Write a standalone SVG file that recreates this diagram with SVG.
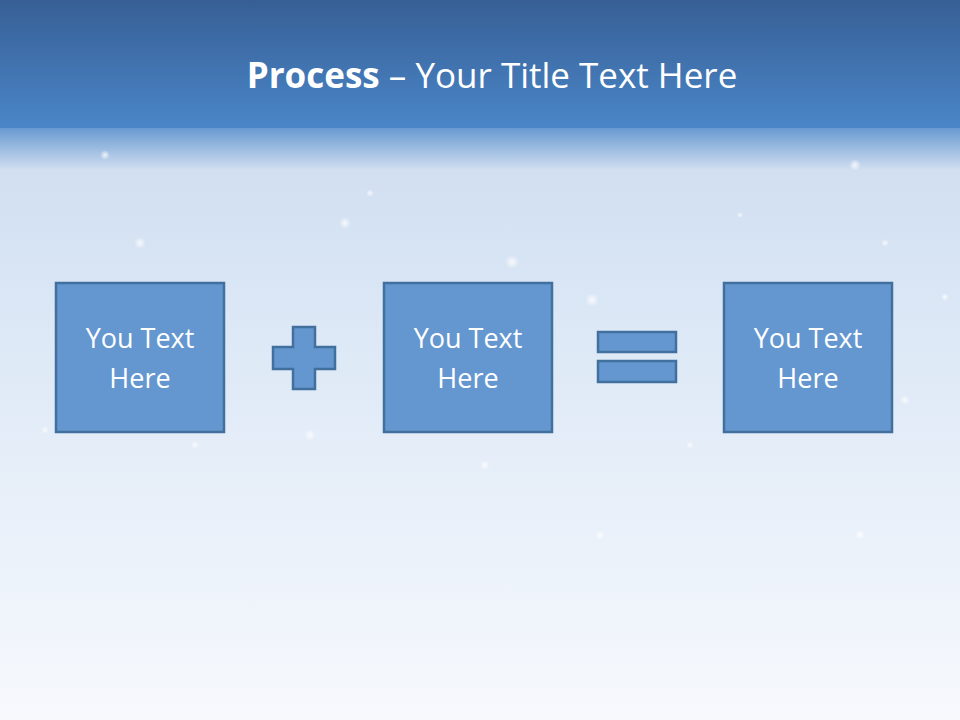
<svg xmlns="http://www.w3.org/2000/svg" width="960" height="720" viewBox="0 0 960 720">
<defs>
<linearGradient id="top" x1="0" y1="0" x2="0" y2="1">
<stop offset="0" stop-color="#375F95"/>
<stop offset="1" stop-color="#4A86C8"/>
</linearGradient>
<linearGradient id="bg" x1="0" y1="0" x2="0" y2="1">
<stop offset="0" stop-color="#A9C4E6"/>
<stop offset="0.12" stop-color="#CBDAEE"/>
<stop offset="0.45" stop-color="#DCE8F6"/>
<stop offset="1" stop-color="#F7F9FD"/>
</linearGradient>
<linearGradient id="fade" x1="0" y1="0" x2="0" y2="1">
<stop offset="0" stop-color="#4A86C8" stop-opacity="0.8"/>
<stop offset="1" stop-color="#4A86C8" stop-opacity="0"/>
</linearGradient>
<radialGradient id="spark">
<stop offset="0" stop-color="#fff" stop-opacity="1"/>
<stop offset="1" stop-color="#fff" stop-opacity="0"/>
</radialGradient>
<style>
.shape{fill:#6497D0;stroke:#41709F;stroke-width:2.5}
.lbl{font-family:"Open Sans","Liberation Sans",sans-serif;font-size:27px;fill:#fff;text-anchor:middle}
.sp{fill:url(#spark)}
</style>
</defs>
<rect x="0" y="0" width="960" height="720" fill="url(#bg)"/>
<rect x="0" y="126" width="960" height="44" fill="url(#fade)"/>
<rect x="0" y="0" width="960" height="128" fill="url(#top)"/>
<g opacity="0.8">
<circle class="sp" cx="140" cy="243" r="6"/>
<circle class="sp" cx="345" cy="223" r="6"/>
<circle class="sp" cx="512" cy="262" r="7"/>
<circle class="sp" cx="592" cy="300" r="7"/>
<circle class="sp" cx="855" cy="165" r="6"/>
<circle class="sp" cx="370" cy="193" r="4"/>
<circle class="sp" cx="105" cy="155" r="5"/>
<circle class="sp" cx="310" cy="435" r="6"/>
<circle class="sp" cx="485" cy="465" r="5"/>
<circle class="sp" cx="600" cy="535" r="5"/>
<circle class="sp" cx="860" cy="535" r="5"/>
<circle class="sp" cx="195" cy="445" r="4"/>
<circle class="sp" cx="690" cy="445" r="4"/>
<circle class="sp" cx="905" cy="400" r="5"/>
<circle class="sp" cx="45" cy="430" r="4"/>
<circle class="sp" cx="885" cy="243" r="4"/>
<circle class="sp" cx="740" cy="215" r="3"/>
<circle class="sp" cx="945" cy="297" r="4"/>
</g>
<text x="492" y="88" font-family="'Open Sans','Liberation Sans',sans-serif" font-size="35" fill="#fff" text-anchor="middle"><tspan font-weight="bold">Process</tspan> – Your Title Text Here</text>
<g id="node1">
<rect class="shape" x="56" y="283" width="168" height="149"/>
<text class="lbl" x="140" y="348">You Text</text>
<text class="lbl" x="140" y="388">Here</text>
</g>
<g id="plus">
<path class="shape" d="M293 327H315V347H335V369H315V389H293V369H273V347H293Z"/>
</g>
<g id="node2">
<rect class="shape" x="384" y="283" width="168" height="149"/>
<text class="lbl" x="468" y="348">You Text</text>
<text class="lbl" x="468" y="388">Here</text>
</g>
<g id="equals">
<rect class="shape" x="598" y="332" width="78" height="20"/>
<rect class="shape" x="598" y="361" width="78" height="21"/>
</g>
<g id="node3">
<rect class="shape" x="724" y="283" width="168" height="149"/>
<text class="lbl" x="808" y="348">You Text</text>
<text class="lbl" x="808" y="388">Here</text>
</g>
<g id="connectors"/>
</svg>
